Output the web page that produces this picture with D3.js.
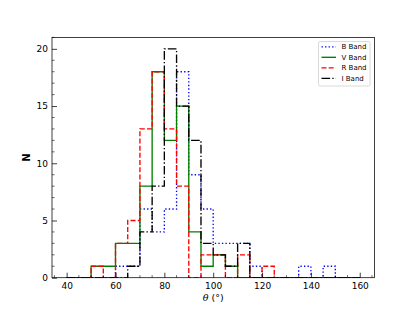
<!DOCTYPE html>
<html><head><meta charset="utf-8">
<script src="https://cdn.jsdelivr.net/npm/d3@7"></script>
<style>
html,body{margin:0;padding:0;background:#fff;}
text{font-family:"DejaVu Sans",sans-serif;}
</style></head>
<body><svg id="c" width="415" height="312"></svg>
<script>
// Histogram bins: 5-degree bins from 40 to 160
const binStart = 40, binWidth = 5, nBins = 24;
const bandNames = ["B Band","V Band","R Band","I Band"];
const bCounts = [0,0,0,0,1,1,6,4,6,18,9,6,3,3,3,1,0,0,0,1,0,1,0,0];
const vCounts = [0,0,1,1,3,3,8,18,12,15,4,1,2,1,0,0,0,0,0,0,0,0,0,0];
const rCounts = [0,0,1,0,3,5,13,18,13,8,0,2,2,0,2,0,1,0,0,0,0,0,0,0];
const iCounts = [0,0,0,0,0,1,4,8,20,15,12,3,2,1,3,0,0,0,0,0,0,0,0,0];
const xTicks = [40,60,80,100,120,140,160];
const yTicks = [0,5,10,15,20];

const svg = d3.select("#c");
const L=52, R=374.4, T=37.4, B=277.7;
const x = d3.scaleLinear().domain([34,166]).range([L,R]);
const y = d3.scaleLinear().domain([0,21]).range([B,T]);

svg.append("defs").append("clipPath").attr("id","clip")
  .append("rect").attr("x",L).attr("y",T).attr("width",R-L).attr("height",B-T);

const series = [
  {name:bandNames[0], counts:bCounts, color:"#0000ff", dash:"1.35,2.2"},
  {name:bandNames[1], counts:vCounts, color:"#008000", dash:null},
  {name:bandNames[2], counts:rCounts, color:"#ff0000", dash:"5,2.2"},
  {name:bandNames[3], counts:iCounts, color:"#000000", dash:"8.6,2.2,1.35,2.2"}
];

const line = d3.line().x(d=>x(d[0])).y(d=>y(d[1])).curve(d3.curveStepAfter);
const g = svg.append("g").attr("clip-path","url(#clip)");
series.forEach(s=>{
  const pts = [[binStart,0]];
  s.counts.forEach((c,i)=>pts.push([binStart+i*binWidth,c]));
  pts.push([binStart+nBins*binWidth,0]);
  g.append("path").attr("d",line(pts)).attr("fill","none")
   .attr("stroke",s.color).attr("stroke-width",1.35)
   .attr("stroke-dasharray",s.dash);
});

// axes frame
svg.append("rect").attr("x",L).attr("y",T).attr("width",R-L).attr("height",B-T)
  .attr("fill","none").attr("stroke","#000").attr("stroke-width",0.75);

// x axis ticks (inward)
const xa = d3.axisBottom(x).tickValues(xTicks).tickSize(-5).tickPadding(4.5).tickFormat(d3.format("d"));
const gx = svg.append("g").attr("transform",`translate(0,${B})`).call(xa);
const xMinor = d3.range(35,166,5).filter(v=>!xTicks.includes(v));
gx.selectAll(".minor").data(xMinor).enter().append("line").attr("class","minor")
  .attr("x1",d=>x(d)).attr("x2",d=>x(d)).attr("y1",0).attr("y2",-2.5).attr("stroke","#000").attr("stroke-width",0.6);
const ya = d3.axisLeft(y).tickValues(yTicks).tickSize(-5).tickPadding(4).tickFormat(d3.format("d"));
const gy = svg.append("g").attr("transform",`translate(${L},0)`).call(ya);
const yMinor = d3.range(0,22,1).filter(v=>!yTicks.includes(v));
gy.selectAll(".minor").data(yMinor).enter().append("line").attr("class","minor")
  .attr("y1",d=>y(d)).attr("y2",d=>y(d)).attr("x1",0).attr("x2",2.5).attr("stroke","#000").attr("stroke-width",0.6);
[gx,gy].forEach(a=>{
  a.select(".domain").remove();
  a.selectAll(".tick line").attr("stroke-width",0.75);
  a.selectAll("text").attr("font-size",9).attr("font-family","DejaVu Sans").attr("fill","#000");
});

// axis labels
const xl = svg.append("text").attr("x",(L+R)/2).attr("y",301).attr("text-anchor","middle").attr("font-size",9.5);
xl.append("tspan").attr("font-style","italic").attr("font-family","DejaVu Serif").text("θ");
xl.append("tspan").text(" (°)");
svg.append("text").attr("transform",`translate(30,${(T+B)/2}) rotate(-90)`).attr("text-anchor","middle")
  .attr("font-size",10).attr("font-weight","bold").text("N");

// legend
const lg = svg.append("g");
lg.append("rect").attr("x",318.5).attr("y",41.5).attr("width",51.5).attr("height",44.5).attr("rx",1.5)
  .attr("fill","#fff").attr("fill-opacity",0.8).attr("stroke","#ccc").attr("stroke-width",0.75);
series.forEach((s,i)=>{
  const yy = 46.8 + i*10.5;
  lg.append("line").attr("x1",321.5).attr("x2",336).attr("y1",yy).attr("y2",yy)
    .attr("stroke",s.color).attr("stroke-width",1.35).attr("stroke-dasharray",s.dash);
  lg.append("text").attr("x",341.5).attr("y",yy+2.5).attr("font-size",7).text(s.name);
});
</script></body></html>
